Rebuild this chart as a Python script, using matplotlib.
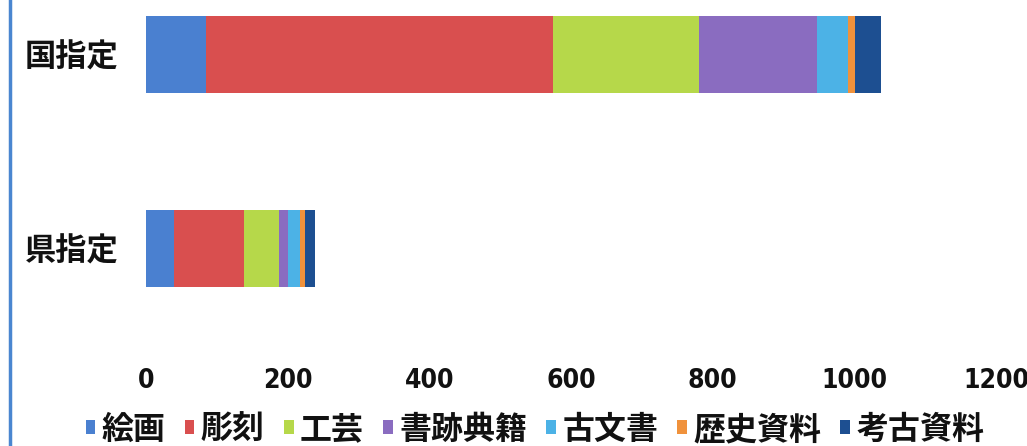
import numpy as np
import matplotlib.pyplot as plt
from matplotlib.lines import Line2D

plt.rcParams['font.family'] = ['Noto Sans CJK JP', 'DejaVu Sans']

categories = ["国指定", "県指定"]
series = ["絵画", "彫刻", "工芸", "書跡典籍", "古文書", "歴史資料", "考古資料"]
values = {
    "絵画": [85, 40],
    "彫刻": [490, 99],
    "工芸": [205, 49],
    "書跡典籍": [167, 13],
    "古文書": [44, 16],
    "歴史資料": [10, 7],
    "考古資料": [37, 14],
}
ticks = [0, 200, 400, 600, 800, 1000, 1200]

colors = ["#4a80d0", "#d94f4f", "#b6d84a", "#8a6cc0", "#4cb2e6", "#f0923c", "#1d4f91"]

fig = plt.figure(figsize=(10.27, 4.46), dpi=100)
W, H = 1027, 446
ax = fig.add_axes([146 / W, 1 - 355 / H, 850 / W, 355 / H])

ypos = np.array([1, 0])
left = np.zeros(len(categories))
for name, c in zip(series, colors):
    v = np.array(values[name], dtype=float)
    ax.barh(ypos, v, left=left, height=0.40, color=c, label=name, linewidth=0)
    left += v

ax.set_xlim(0, 1200)
ax.set_ylim(-0.55, 1.28)
ax.set_xticks(ticks)
ax.set_xticklabels([str(t) for t in ticks], fontsize=19, fontweight="bold",
                   family="DejaVu Sans", fontstretch="condensed", color="#111111")
ax.set_yticks(ypos)
ax.set_yticklabels(categories, fontsize=22.5, fontweight="bold", color="#111111")
ax.tick_params(axis="both", length=0)
ax.tick_params(axis="x", pad=9)
ax.tick_params(axis="y", pad=20)
for s in ax.spines.values():
    s.set_visible(False)

fig.add_artist(Line2D([10 / W, 10 / W], [0, 1], transform=fig.transFigure,
                      color="#4a86d0", linewidth=2.5))

handles, labels = ax.get_legend_handles_labels()
leg = fig.legend(handles, labels, loc="center", bbox_to_anchor=(0.521, 0.036),
                 ncol=7, frameon=False, handlelength=0.3, handleheight=0.3,
                 handletextpad=0.2, columnspacing=0.6, borderpad=0.2,
                 prop={"size": 23, "weight": "bold"})
for t in leg.get_texts():
    t.set_color("#111111")

fig.savefig("out.png", dpi=100)
